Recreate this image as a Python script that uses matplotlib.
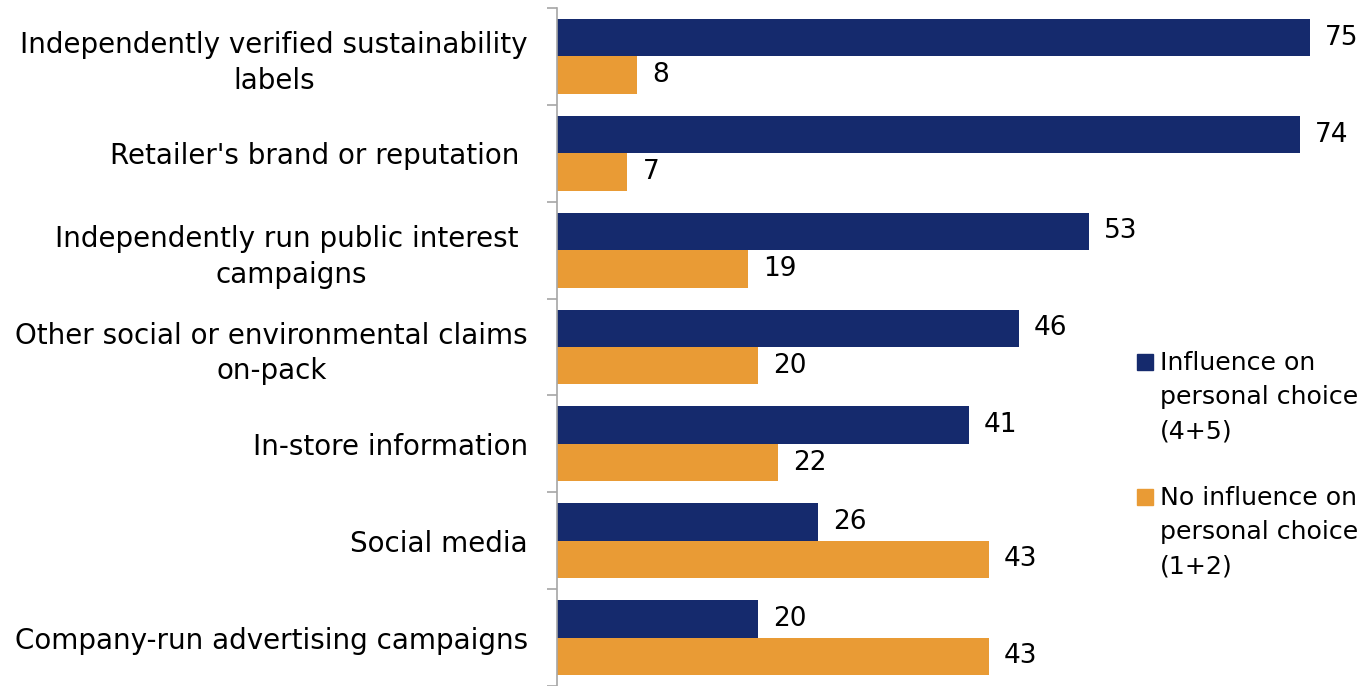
import numpy as np
import matplotlib.pyplot as plt
from matplotlib.patches import Rectangle

categories = [
    "Independently verified sustainability\nlabels",
    "Retailer's brand or reputation ",
    "Independently run public interest \ncampaigns",
    "Other social or environmental claims\non-pack",
    "In-store information",
    "Social media",
    "Company-run advertising campaigns",
]
influence = [75, 74, 53, 46, 41, 26, 20]
no_influence = [8, 7, 19, 20, 22, 43, 43]
series_names = ["Influence on\npersonal choice\n(4+5)",
                "No influence on\npersonal choice\n(1+2)"]

navy = "#152a6d"
orange = "#e99b35"

plt.rcParams['font.family'] = ['DejaVu Sans']

W, H = 1366, 686
fig = plt.figure(figsize=(W / 100, H / 100), dpi=100)
ax = fig.add_axes([557 / W, 0.0, 803 / W, 678 / H])

y = np.arange(len(categories))
h = 0.387
b1 = ax.barh(y - h / 2, influence, height=h, color=navy)
b2 = ax.barh(y + h / 2, no_influence, height=h, color=orange)

fs = 20
for bars, vals in ((b1, influence), (b2, no_influence)):
    for bar, v in zip(bars, vals):
        ax.annotate(str(v), (v, bar.get_y() + bar.get_height() / 2),
                    xytext=(11, 0), textcoords="offset points",
                    va="center", ha="left", fontsize=19, color="black")

ax.set_xlim(0, 80)
ax.set_ylim(len(categories) - 0.5, -0.5)

for s in ("top", "right", "bottom"):
    ax.spines[s].set_visible(False)
ax.spines["left"].set_color("#a6a6a6")
ax.spines["left"].set_linewidth(1.2)
ax.set_xticks([])

ax.set_yticks(y)
ax.set_yticklabels(categories, fontsize=fs)
for lbl in ax.get_yticklabels():
    lbl.set_multialignment("center")
    lbl.set_linespacing(1.34)
ax.tick_params(axis="y", which="major", length=0, pad=21)
ax.set_yticks(np.arange(-0.5, len(categories), 1.0), minor=True)
ax.tick_params(axis="y", which="minor", length=7, color="#a6a6a6", width=1.2)

# legend drawn by hand so the swatch sits beside the first line
legend_rows = [(series_names[0], navy, 362), (series_names[1], orange, 497)]
for name, col, yc in legend_rows:
    fig.patches.append(Rectangle((1137 / W, 1 - (yc + 8) / H), 16 / W, 16 / H,
                                 transform=fig.transFigure, color=col))
    fig.text(1160 / W, 1 - (yc - 11) / H, name, fontsize=18.2,
             ha="left", va="top", linespacing=1.53)

fig.savefig("out.png", dpi=100)
